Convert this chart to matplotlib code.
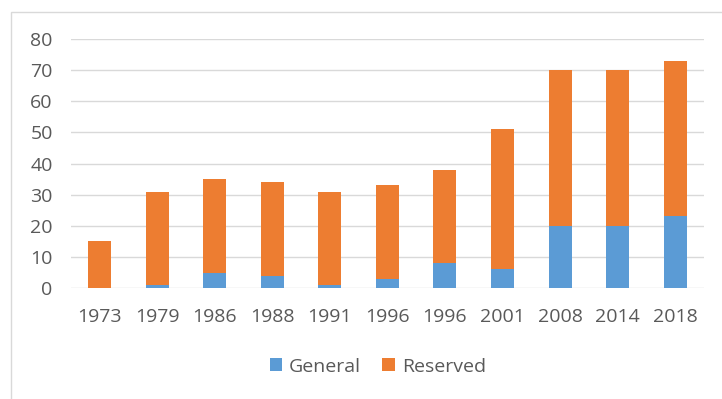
import matplotlib; matplotlib.use("Agg")
import matplotlib.pyplot as plt
import numpy as np

years = ["1973", "1979", "1986", "1988", "1991", "1996", "1996", "2001", "2008", "2014", "2018"]
general = [0, 1, 5, 4, 1, 3, 8, 6, 20, 20, 23]
reserved = [15, 30, 30, 30, 30, 30, 30, 45, 50, 50, 50]

plt.rcParams["font.family"] = ["Open Sans", "DejaVu Sans"]
grey = "#595959"
fig = plt.figure(figsize=(7.22, 3.99), dpi=100)
ax = fig.add_axes([0.098, 0.278, 0.877, 0.624])
x = np.arange(len(years))
ax.bar(x, general, width=0.4, color="#5B9BD5", label="General", zorder=3)
ax.bar(x, reserved, width=0.4, bottom=general, color="#ED7D31", label="Reserved", zorder=3)
ax.set_xlim(-0.5, len(years) - 0.5)
ax.set_ylim(0, 80)
ax.set_yticks(range(0, 81, 10))
ax.set_xticks(x, years)
ax.grid(axis="y", color="#d9d9d9", linewidth=1, zorder=0)
for s in ax.spines.values():
    s.set_visible(False)
ax.tick_params(length=0, labelsize=14, colors=grey)
ax.tick_params(axis="x", pad=14)
ax.tick_params(axis="y", pad=13)
ax.legend(loc="center", bbox_to_anchor=(0.485, -0.315), ncol=2, frameon=False,
          fontsize=14, labelcolor=grey, handlelength=0.65, handleheight=0.65,
          handletextpad=0.35, columnspacing=1.1)
fig.patches.append(plt.Rectangle((11 / 722, -0.1), 1.2, 1 - 12 / 399 + 0.1,
                                 transform=fig.transFigure, fill=False,
                                 edgecolor="#d9d9d9", linewidth=1))
fig.savefig("out.png", dpi=100)
